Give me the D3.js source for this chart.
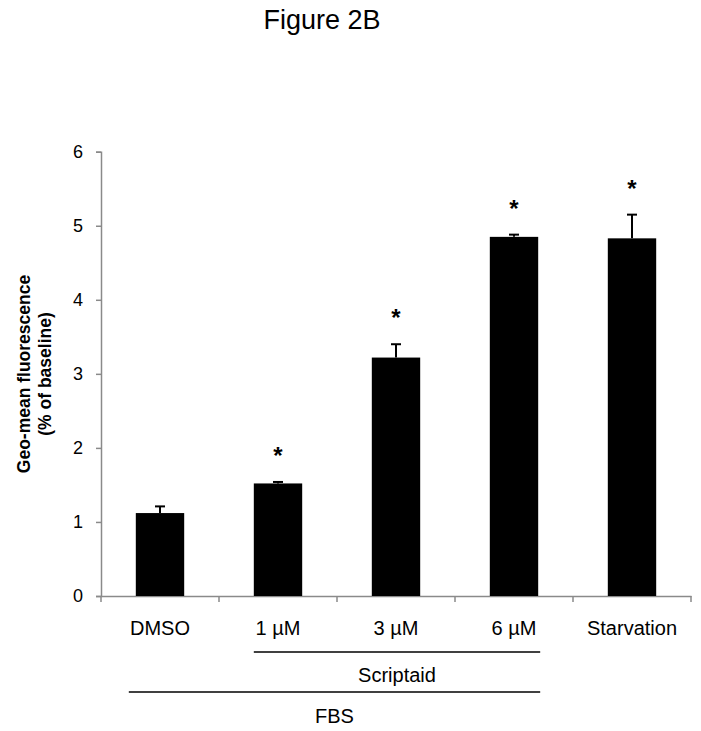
<!DOCTYPE html>
<html><head><meta charset="utf-8">
<script src="https://cdn.jsdelivr.net/npm/d3@7"></script>
<style>body{margin:0;background:#fff}svg{display:block}text{font-family:"Liberation Sans",Arial,sans-serif}</style>
</head><body>
<svg id="c" width="701" height="731"></svg>
<script>
const categories = ["DMSO", "1 µM", "3 µM", "6 µM", "Starvation"];
const means = [1.12, 1.52, 3.22, 4.85, 4.83];
const errors = [0.09, 0.02, 0.18, 0.03, 0.32];
const significant = [false, true, true, true, true];
const yTicks = [0, 1, 2, 3, 4, 5, 6];
const title = "Figure 2B";
const yTitle = ["Geo-mean fluorescence", "(% of baseline)"];
const groups = [
  {label: "Scriptaid", from: "1 µM", to: "6 µM", level: 0},
  {label: "FBS", from: "DMSO", to: "6 µM", level: 1}
];

(function () {
const svg = d3.select("#c");
const mLeft = 101, mRight = 691, mTop = 151.7, mBottom = 596;
const x = d3.scaleBand().domain(categories).range([mLeft, mRight]).paddingInner(0.59).paddingOuter(0.295);
const y = d3.scaleLinear().domain([0, 6]).range([mBottom, mTop]);
const axisCol = "#8a8a8a";
const ff = '"Liberation Sans",Arial,sans-serif';

svg.append("text").attr("x", 322).attr("y", 29).attr("text-anchor", "middle")
  .attr("font-size", 27).text(title);

// y axis
const ya = svg.append("g").attr("transform", `translate(${mLeft},0)`)
  .call(d3.axisLeft(y).tickValues(yTicks).tickSize(5).tickPadding(13).tickFormat(d3.format("d")));
ya.select(".domain").attr("stroke", axisCol).attr("stroke-width", 1.5);
ya.selectAll(".tick line").attr("stroke", axisCol).attr("stroke-width", 1.5);
ya.selectAll(".tick text").attr("font-size", 18).attr("fill", "#000").attr("font-family", ff);

// x axis
const xa = svg.append("g").attr("transform", `translate(0,${mBottom})`)
  .call(d3.axisBottom(x).tickSize(0).tickPadding(25));
xa.select(".domain").attr("stroke", axisCol).attr("stroke-width", 1.5);
xa.selectAll(".tick text").attr("font-size", 20).attr("fill", "#000").attr("font-family", ff);
const bounds = d3.range(categories.length + 1).map(i => mLeft + i * x.step());
svg.append("g").selectAll("line").data(bounds).join("line")
  .attr("x1", d => d).attr("x2", d => d).attr("y1", mBottom).attr("y2", mBottom + 6)
  .attr("stroke", axisCol).attr("stroke-width", 1.5);

// bars
svg.append("g").selectAll("rect").data(categories).join("rect")
  .attr("x", d => x(d)).attr("width", x.bandwidth())
  .attr("y", (d, i) => y(means[i])).attr("height", (d, i) => y(0) - y(means[i]))
  .attr("fill", "#000");

// error bars
const eg = svg.append("g").attr("stroke", "#000").attr("stroke-width", 2);
categories.forEach((c, i) => {
  const cx = x(c) + x.bandwidth() / 2;
  eg.append("line").attr("x1", cx).attr("x2", cx).attr("y1", y(means[i])).attr("y2", y(means[i] + errors[i]));
  eg.append("line").attr("x1", cx - 5).attr("x2", cx + 5).attr("y1", y(means[i] + errors[i])).attr("y2", y(means[i] + errors[i]));
});

// significance
svg.append("g").selectAll("text").data(categories.filter((c, i) => significant[i])).join("text")
  .attr("x", d => x(d) + x.bandwidth() / 2)
  .attr("y", d => { const i = categories.indexOf(d); return y(means[i] + errors[i]) - 32 + 14; })
  .attr("text-anchor", "middle").attr("font-size", 24).attr("font-weight", "bold").text("*");

// y title
yTitle.forEach((t, i) => {
  svg.append("text").attr("transform", `translate(${30 + i * 21},374) rotate(-90)`)
    .attr("text-anchor", "middle").attr("font-size", 17.5).attr("font-weight", "bold").text(t);
});

// group brackets
const lineY = [652, 692], textY = [682, 723];
groups.forEach(g => {
  const x1 = g.level === 0 ? x(g.from) : x(g.from) - 7;
  const x2 = x(g.to) + x.bandwidth() + 2;
  svg.append("line").attr("x1", x1).attr("x2", x2)
    .attr("y1", lineY[g.level]).attr("y2", lineY[g.level]).attr("stroke", "#000").attr("stroke-width", 1.5);
  svg.append("text").attr("x", (x1 + x2) / 2)
    .attr("y", textY[g.level]).attr("text-anchor", "middle").attr("font-size", 20).text(g.label);
});
})();
</script>
</body></html>
